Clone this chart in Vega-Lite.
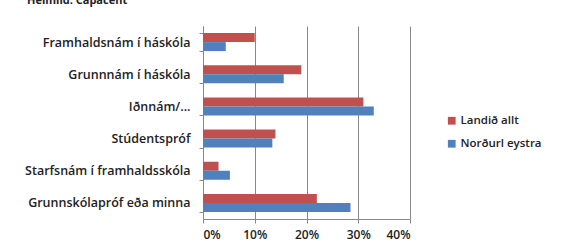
{
  "$schema": "https://vega.github.io/schema/vega-lite/v6.json",
  "autosize": "none",
  "width": 207,
  "height": 193,
  "padding": {"left": 203, "top": 26, "right": 153, "bottom": 29},
  "background": "white",
  "title": {
    "text": "Heimild: Capacent",
    "anchor": "start",
    "frame": "group",
    "dx": -176,
    "dy": -5,
    "offset": 0,
    "baseline": "alphabetic",
    "font": "Open Sans",
    "fontSize": 11,
    "fontWeight": "bold",
    "color": "#222"
  },
  "data": {
    "values": [
      {"cat": "Framhaldsnám í háskóla", "series": "Landið allt", "value": 0.10},
      {"cat": "Framhaldsnám í háskóla", "series": "Norðurl eystra", "value": 0.044},
      {"cat": "Grunnnám í háskóla", "series": "Landið allt", "value": 0.19},
      {"cat": "Grunnnám í háskóla", "series": "Norðurl eystra", "value": 0.156},
      {"cat": "Iðnnám/...", "series": "Landið allt", "value": 0.31},
      {"cat": "Iðnnám/...", "series": "Norðurl eystra", "value": 0.33},
      {"cat": "Stúdentspróf", "series": "Landið allt", "value": 0.14},
      {"cat": "Stúdentspróf", "series": "Norðurl eystra", "value": 0.134},
      {"cat": "Starfsnám í framhaldsskóla", "series": "Landið allt", "value": 0.03},
      {"cat": "Starfsnám í framhaldsskóla", "series": "Norðurl eystra", "value": 0.052},
      {"cat": "Grunnskólapróf eða minna", "series": "Landið allt", "value": 0.22},
      {"cat": "Grunnskólapróf eða minna", "series": "Norðurl eystra", "value": 0.285}
    ]
  },
  "mark": {"type": "bar"},
  "encoding": {
    "y": {
      "field": "cat",
      "type": "nominal",
      "sort": ["Framhaldsnám í háskóla", "Grunnnám í háskóla", "Iðnnám/...", "Stúdentspróf", "Starfsnám í framhaldsskóla", "Grunnskólapróf eða minna"],
      "scale": {"paddingInner": 0.44, "paddingOuter": 0.22},
      "axis": {
        "title": null,
        "tickBand": "extent",
        "tickSize": 4,
        "tickColor": "#888",
        "domainColor": "#888",
        "labelPadding": 9,
        "labelFont": "Open Sans",
        "labelFontSize": 12.5,
        "labelFontWeight": 600,
        "labelColor": "#222",
        "grid": false
      }
    },
    "yOffset": {
      "field": "series",
      "type": "nominal",
      "sort": ["Landið allt", "Norðurl eystra"],
      "scale": {"paddingInner": 0, "paddingOuter": 0}
    },
    "x": {
      "field": "value",
      "type": "quantitative",
      "scale": {"domain": [0, 0.4], "nice": false},
      "axis": {
        "title": null,
        "values": [0, 0.1, 0.2, 0.3, 0.4],
        "format": ".0%",
        "grid": true,
        "gridColor": "#888",
        "gridWidth": 1,
        "tickSize": 4,
        "tickColor": "#888",
        "domainColor": "#888",
        "labelPadding": 6,
        "labelFont": "Open Sans",
        "labelFontSize": 12,
        "labelFontWeight": 600,
        "labelColor": "#222"
      }
    },
    "color": {
      "field": "series",
      "type": "nominal",
      "sort": ["Landið allt", "Norðurl eystra"],
      "scale": {"domain": ["Landið allt", "Norðurl eystra"], "range": ["#C0504D", "#4F81BD"]},
      "legend": {
        "title": null,
        "orient": "none",
        "legendX": 243,
        "legendY": 89,
        "symbolType": "square",
        "symbolSize": 60,
        "symbolStrokeWidth": 0,
        "rowPadding": 10,
        "labelFont": "Open Sans",
        "labelFontSize": 11.5,
        "labelFontWeight": 600,
        "labelColor": "#222",
        "labelOffset": 3
      }
    }
  },
  "config": {"view": {"stroke": null}}
}
